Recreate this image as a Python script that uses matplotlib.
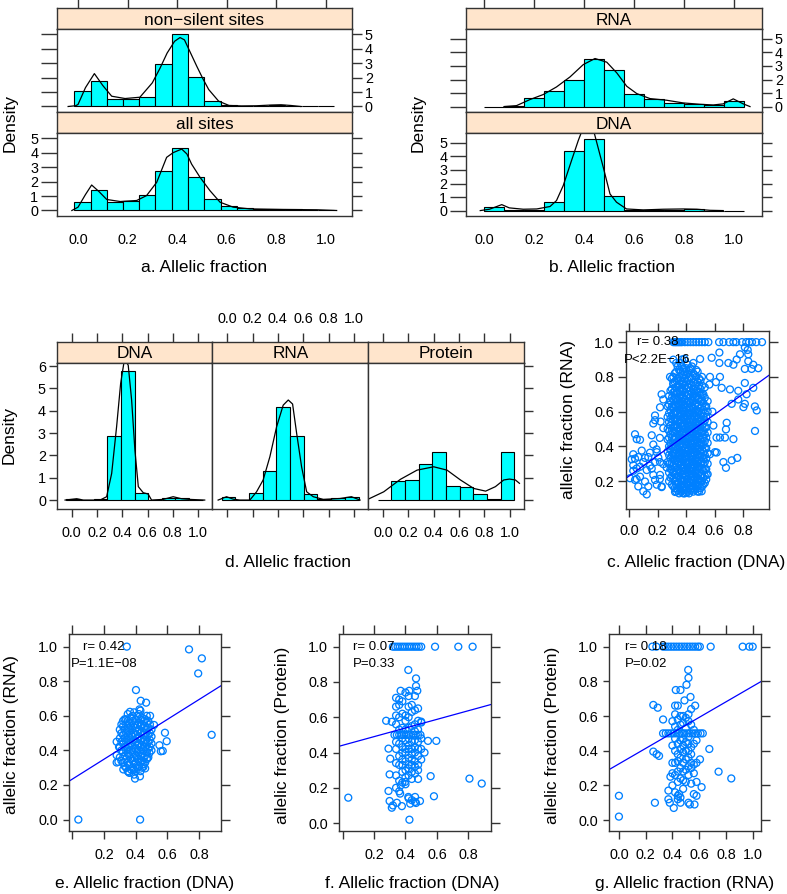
import numpy as np
import matplotlib.pyplot as plt

plt.rcParams['font.family'] = ['Liberation Sans', 'DejaVu Sans']

W, H = 787, 894
CYAN = '#00ffff'
STRIP = '#ffe5cc'
PT_COL = '#0080ff'
FRAME = '#333333'
M = '\u2212'

# ---------------- data ----------------
FRAC_TICKS = [0.0, 0.2, 0.4, 0.6, 0.8, 1.0]
FRAC_LABELS = ['0.0', '0.2', '0.4', '0.6', '0.8', '1.0']

# a. non-silent / all sites
A_EDGES = [-0.015, 0.051, 0.116, 0.182, 0.248, 0.313, 0.379, 0.444, 0.510,
           0.576, 0.641, 0.707, 0.773, 0.838, 0.904, 0.969, 1.035]
A_NONSILENT = [1.05, 1.79, 0.55, 0.55, 0.66, 2.96, 5.00, 2.04, 0.41, 0.07,
               0.04, 0.04, 0.07, 0.04, 0.0, 0.0]
A_ALL = [0.57, 1.44, 0.62, 0.69, 1.08, 2.70, 4.28, 2.29, 0.78, 0.30,
         0.16, 0.11, 0.11, 0.09, 0.05, 0.05]
A_NS_DX = [-0.04, -0.01, 0.0, 0.03, 0.066, 0.10, 0.136, 0.19, 0.25, 0.30, 0.33,
           0.36, 0.39, 0.412, 0.43, 0.46, 0.48, 0.505, 0.528, 0.568, 0.61, 0.66,
           0.72, 0.78, 0.82, 0.86, 0.90]
A_NS_DY = [0.0, 0.05, 0.14, 1.3, 2.27, 1.45, 0.71, 0.55, 0.64, 1.63, 2.6,
           3.69, 4.5, 4.76, 4.6, 3.5, 2.77, 1.9, 1.17, 0.37, 0.07, 0.04,
           0.05, 0.1, 0.12, 0.07, 0.0]
A_ALL_DX = [-0.025, 0.0, 0.03, 0.055, 0.085, 0.116, 0.17, 0.237, 0.277, 0.318,
            0.358, 0.385, 0.419, 0.44, 0.459, 0.493, 0.533, 0.574, 0.627, 0.695,
            0.83, 0.964, 1.045]
A_ALL_DY = [0.0, 0.23, 1.1, 1.76, 1.3, 0.76, 0.62, 0.69, 1.03, 1.95,
            3.67, 4.0, 4.24, 3.9, 3.2, 2.29, 1.37, 0.57, 0.23, 0.11,
            0.07, 0.05, 0.0]

# b. RNA / DNA
B_EDGES = [0.0, 0.08, 0.16, 0.24, 0.32, 0.40, 0.48, 0.56, 0.64, 0.72, 0.80,
           0.88, 0.96, 1.04]
B_RNA = [0.0, 0.03, 0.62, 1.18, 2.00, 3.55, 2.71, 0.94, 0.59, 0.27, 0.22, 0.10, 0.44]
B_DNA = [0.25, 0.07, 0.08, 0.64, 4.43, 5.30, 1.08, 0.05, 0.05, 0.03, 0.10, 0.0, 0.0]
B_RNA_DX = [0.079, 0.129, 0.183, 0.236, 0.289, 0.343, 0.396, 0.443, 0.49, 0.53,
            0.57, 0.61, 0.663, 0.729, 0.796, 0.863, 0.916, 0.956, 0.996, 1.036, 1.063]
B_RNA_DY = [0.0, 0.07, 0.52, 0.89, 1.45, 2.19, 3.1, 3.55, 3.28, 2.49,
            1.5, 0.96, 0.59, 0.47, 0.27, 0.17, 0.12, 0.2, 0.57, 0.2, 0.0]
B_DNA_DX = [-0.016, 0.021, 0.07, 0.1, 0.156, 0.21, 0.263, 0.289, 0.316, 0.349,
            0.376, 0.389, 0.414, 0.439, 0.476, 0.503, 0.529, 0.569, 0.636, 0.716,
            0.796, 0.85, 0.903, 0.956]
B_DNA_DY = [0.0, 0.1, 0.44, 0.2, 0.1, 0.12, 0.3, 0.74, 1.85, 3.69,
            5.17, 5.8, 6.4, 5.8, 3.2, 1.23, 0.62, 0.12, 0.05, 0.1,
            0.12, 0.1, 0.02, 0.0]

# d. DNA / RNA / Protein
D_EDGES = [-0.043, 0.065, 0.173, 0.281, 0.389, 0.497, 0.604, 0.712, 0.820, 0.928, 1.036]
D_DNA = [0.05, 0.0, 0.05, 2.88, 5.78, 0.33, 0.0, 0.10, 0.10, 0.0]
D_RNA = [0.12, 0.0, 0.33, 1.30, 4.18, 2.88, 0.27, 0.05, 0.08, 0.12]
D_PROT = [0.0, 0.85, 0.91, 1.60, 2.16, 0.64, 0.60, 0.27, 0.04, 2.13]
D_DNA_DX = [-0.053, 0.039, 0.092, 0.224, 0.276, 0.316, 0.355, 0.387, 0.413, 0.43,
            0.447, 0.474, 0.50, 0.527, 0.566, 0.605, 0.632, 0.724, 0.803, 0.869,
            0.935, 1.053]
D_DNA_DY = [0.0, 0.06, 0.0, 0.0, 0.15, 1.19, 3.28, 5.22, 6.15, 6.2,
            6.04, 4.48, 2.24, 0.6, 0.33, 0.27, 0.0, 0.03, 0.15, 0.06,
            0.03, 0.0]
D_RNA_DX = [-0.071, -0.005, 0.048, 0.10, 0.179, 0.232, 0.284, 0.337, 0.39, 0.442,
            0.482, 0.516, 0.548, 0.587, 0.627, 0.679, 0.758, 0.89, 0.98, 1.048]
D_RNA_DY = [0.0, 0.15, 0.04, 0.0, 0.0, 0.37, 0.9, 1.94, 3.28, 4.25,
            4.48, 4.3, 2.99, 1.49, 0.37, 0.15, 0.03, 0.07, 0.15, 0.0]
D_PROT_DX = [-0.114, 0.005, 0.137, 0.268, 0.40, 0.505, 0.611, 0.716, 0.81, 0.887,
             0.953, 0.998, 1.045, 1.077]
D_PROT_DY = [0.05, 0.37, 0.93, 1.34, 1.49, 1.34, 0.9, 0.52, 0.40, 0.6,
             0.9, 0.94, 0.9, 0.75]

# c. RNA vs DNA allelic fraction
C_TOP_X = [0.31, 0.32, 0.33, 0.34, 0.35, 0.36, 0.37, 0.39, 0.41, 0.43, 0.45,
           0.47, 0.49, 0.51, 0.53, 0.555, 0.63, 0.66, 0.70, 0.73, 0.75, 0.79,
           0.82, 0.84, 0.86, 0.89, 0.93]
C_OUTLIERS = [
    (0.31, 0.899), (0.387, 0.904), (0.497, 0.903), (0.578, 0.91), (0.632, 0.94),
    (0.632, 0.88), (0.695, 0.88), (0.753, 0.90), (0.776, 0.93), (0.834, 0.93),
    (0.834, 0.89), (0.869, 0.87), (0.904, 0.85), (0.81, 0.846), (0.857, 0.846),
    (0.73, 0.87), (0.81, 0.97), (0.83, 0.955), (0.566, 0.80), (0.636, 0.80),
    (0.608, 0.77), (0.562, 0.756), (0.648, 0.737), (0.706, 0.728), (0.764, 0.72),
    (0.81, 0.765), (0.869, 0.737), (0.822, 0.70), (0.764, 0.67), (0.718, 0.645),
    (0.81, 0.645), (0.88, 0.63), (0.228, 0.70), (0.24, 0.67), (0.182, 0.578),
    (0.217, 0.625), (0.287, 0.80), (0.31, 0.76), (0.182, 0.551), (0.17, 0.532),
    (0.042, 0.47), (0.054, 0.442), (0.077, 0.438), (0.159, 0.464), (0.089, 0.376),
    (0.042, 0.33), (0.065, 0.339), (0.112, 0.334), (0.135, 0.339), (0.194, 0.367),
    (0.182, 0.31), (0.217, 0.31), (0.03, 0.292), (0.054, 0.273), (0.077, 0.283),
    (0.124, 0.264), (0.159, 0.273), (0.007, 0.217), (0.042, 0.207), (0.077, 0.226),
    (0.112, 0.198), (0.065, 0.17), (0.10, 0.142), (0.124, 0.124), (0.135, 0.17),
    (0.182, 0.207), (0.194, 0.18), (0.229, 0.17), (0.17, 0.236), (0.217, 0.236),
    (0.03, 0.355), (0.019, 0.326), (0.10, 0.31), (0.147, 0.289), (0.03, 0.26),
    (0.053, 0.213), (0.147, 0.364), (0.17, 0.411), (0.193, 0.383), (0.216, 0.449),
    (0.24, 0.505), (0.221, 0.543), (0.205, 0.336), (0.24, 0.298), (0.263, 0.279),
    (0.216, 0.213), (0.228, 0.166), (0.543, 0.236), (0.508, 0.142), (0.403, 0.133),
    (0.322, 0.138), (0.601, 0.367), (0.612, 0.451), (0.636, 0.451), (0.671, 0.451),
    (0.73, 0.442), (0.683, 0.536), (0.678, 0.498), (0.881, 0.489), (0.893, 0.607),
    (0.80, 0.626), (0.66, 0.31), (0.678, 0.277), (0.718, 0.32), (0.757, 0.334),
    (0.287, 0.386), (0.566, 0.355), (0.613, 0.365), (0.583, 0.60), (0.59, 0.52),
]
C_CLOUD = [
    (0.27, [0.31, 0.37, 0.44, 0.50, 0.57, 0.63]),
    (0.29, [0.22, 0.27, 0.33, 0.38, 0.42, 0.47, 0.52, 0.56, 0.61, 0.66, 0.72]),
    (0.31, [0.17, 0.21, 0.25, 0.29, 0.33, 0.36, 0.40, 0.44, 0.48, 0.51, 0.55, 0.59,
            0.63, 0.67, 0.71, 0.76, 0.80]),
    (0.33, [0.14, 0.18, 0.22, 0.25, 0.28, 0.32, 0.35, 0.38, 0.42, 0.45, 0.49, 0.52,
            0.56, 0.60, 0.63, 0.67, 0.71, 0.74, 0.78, 0.83, 0.88]),
    (0.35, [0.13, 0.16, 0.19, 0.23, 0.26, 0.30, 0.33, 0.36, 0.40, 0.43, 0.47, 0.50,
            0.54, 0.57, 0.61, 0.64, 0.68, 0.72, 0.76, 0.80, 0.84]),
    (0.37, [0.15, 0.18, 0.21, 0.24, 0.28, 0.31, 0.34, 0.38, 0.41, 0.45, 0.48, 0.52,
            0.55, 0.59, 0.62, 0.66, 0.69, 0.73, 0.77, 0.81, 0.86, 0.90]),
    (0.39, [0.13, 0.17, 0.20, 0.23, 0.26, 0.29, 0.33, 0.36, 0.39, 0.43, 0.46, 0.50,
            0.53, 0.57, 0.60, 0.64, 0.67, 0.71, 0.75, 0.79, 0.83]),
    (0.41, [0.14, 0.18, 0.21, 0.25, 0.28, 0.31, 0.35, 0.38, 0.42, 0.45, 0.49, 0.52,
            0.56, 0.59, 0.63, 0.66, 0.70, 0.74, 0.78, 0.82, 0.87]),
    (0.43, [0.15, 0.19, 0.22, 0.26, 0.29, 0.33, 0.36, 0.40, 0.43, 0.47, 0.50, 0.54,
            0.57, 0.61, 0.65, 0.68, 0.72, 0.76, 0.80, 0.85]),
    (0.45, [0.14, 0.17, 0.21, 0.24, 0.28, 0.31, 0.35, 0.38, 0.42, 0.45, 0.48, 0.52,
            0.55, 0.59, 0.62, 0.66, 0.70, 0.73, 0.77, 0.82, 0.88]),
    (0.47, [0.16, 0.19, 0.23, 0.26, 0.30, 0.33, 0.37, 0.40, 0.44, 0.47, 0.51, 0.54,
            0.58, 0.61, 0.65, 0.69, 0.72, 0.76, 0.80, 0.84]),
    (0.49, [0.14, 0.18, 0.21, 0.25, 0.28, 0.32, 0.35, 0.39, 0.42, 0.46, 0.49, 0.53,
            0.56, 0.60, 0.64, 0.67, 0.71, 0.75, 0.79]),
    (0.51, [0.17, 0.20, 0.24, 0.27, 0.31, 0.34, 0.38, 0.41, 0.45, 0.48, 0.52, 0.55,
            0.59, 0.63, 0.66, 0.70, 0.75, 0.80]),
    (0.53, [0.19, 0.23, 0.27, 0.31, 0.35, 0.39, 0.43, 0.47, 0.51, 0.55, 0.59, 0.63,
            0.68, 0.74]),
    (0.55, [0.24, 0.30, 0.36, 0.42, 0.48, 0.54, 0.60, 0.66]),
    # second, interleaved layer of the dense core
    (0.28, [0.20, 0.25, 0.30, 0.35, 0.40, 0.45, 0.49, 0.54, 0.59, 0.64, 0.69]),
    (0.30, [0.18, 0.23, 0.27, 0.31, 0.35, 0.40, 0.45, 0.49, 0.54, 0.58, 0.63, 0.68,
            0.73, 0.79]),
    (0.32, [0.16, 0.20, 0.24, 0.28, 0.32, 0.36, 0.40, 0.44, 0.48, 0.52, 0.56, 0.60,
            0.64, 0.68, 0.72, 0.77, 0.82]),
    (0.34, [0.15, 0.19, 0.23, 0.27, 0.31, 0.35, 0.39, 0.43, 0.47, 0.51, 0.55, 0.59,
            0.63, 0.67, 0.71, 0.75, 0.79, 0.86]),
    (0.36, [0.14, 0.17, 0.21, 0.25, 0.29, 0.33, 0.37, 0.41, 0.45, 0.49, 0.53, 0.57,
            0.61, 0.65, 0.69, 0.73, 0.78, 0.83, 0.88]),
    (0.38, [0.13, 0.16, 0.20, 0.24, 0.28, 0.32, 0.36, 0.40, 0.44, 0.48, 0.52, 0.56,
            0.60, 0.64, 0.68, 0.72, 0.76, 0.81, 0.85]),
    (0.40, [0.15, 0.19, 0.23, 0.27, 0.30, 0.34, 0.37, 0.41, 0.44, 0.48, 0.51, 0.55,
            0.58, 0.62, 0.65, 0.69, 0.73, 0.77, 0.81, 0.85]),
    (0.42, [0.13, 0.16, 0.20, 0.24, 0.27, 0.31, 0.34, 0.38, 0.41, 0.45, 0.48, 0.52,
            0.55, 0.59, 0.62, 0.66, 0.70, 0.74, 0.79, 0.84]),
    (0.44, [0.16, 0.20, 0.24, 0.27, 0.31, 0.34, 0.38, 0.41, 0.45, 0.49, 0.52, 0.56,
            0.60, 0.63, 0.67, 0.71, 0.75, 0.79, 0.86]),
    (0.46, [0.15, 0.18, 0.22, 0.25, 0.29, 0.32, 0.36, 0.39, 0.43, 0.46, 0.50, 0.53,
            0.57, 0.60, 0.64, 0.68, 0.71, 0.75, 0.81]),
    (0.48, [0.14, 0.17, 0.21, 0.24, 0.28, 0.31, 0.35, 0.38, 0.42, 0.45, 0.49, 0.52,
            0.56, 0.60, 0.63, 0.67, 0.71, 0.77, 0.83]),
    (0.50, [0.16, 0.20, 0.23, 0.27, 0.30, 0.34, 0.37, 0.41, 0.44, 0.48, 0.51, 0.55,
            0.58, 0.62, 0.66, 0.70, 0.73, 0.78]),
    (0.52, [0.18, 0.22, 0.26, 0.30, 0.33, 0.37, 0.41, 0.45, 0.49, 0.53, 0.57, 0.61,
            0.65, 0.70]),
    (0.54, [0.21, 0.27, 0.33, 0.39, 0.45, 0.51, 0.57, 0.63]),
]
C_LINE = (0.229, 0.593)   # intercept, slope

# e. RNA vs DNA (subset)
E_OUTLIERS = [
    (0.038, 0.0), (0.428, 0.0), (0.344, 1.0), (0.737, 0.984), (0.818, 0.932),
    (0.795, 0.845), (0.88, 0.49), (0.402, 0.749), (0.432, 0.687), (0.466, 0.676),
    (0.364, 0.623), (0.424, 0.637), (0.491, 0.60), (0.585, 0.502), (0.596, 0.453),
    (0.55, 0.43), (0.559, 0.395), (0.571, 0.397), (0.516, 0.547), (0.291, 0.334),
    (0.28, 0.372), (0.28, 0.45), (0.295, 0.42), (0.322, 0.29), (0.354, 0.276),
    (0.386, 0.29), (0.396, 0.237), (0.427, 0.25), (0.449, 0.305), (0.474, 0.353),
    (0.487, 0.386), (0.28, 0.33), (0.46, 0.296), (0.389, 0.287),
]
E_CLOUD = [
    (0.30, [0.36, 0.42, 0.47, 0.52]),
    (0.32, [0.33, 0.39, 0.44, 0.49, 0.54, 0.57]),
    (0.34, [0.30, 0.35, 0.40, 0.45, 0.50, 0.55, 0.58]),
    (0.36, [0.27, 0.32, 0.37, 0.42, 0.46, 0.51, 0.56]),
    (0.38, [0.30, 0.34, 0.39, 0.43, 0.48, 0.52, 0.57, 0.60]),
    (0.40, [0.28, 0.33, 0.37, 0.41, 0.45, 0.49, 0.53, 0.58]),
    (0.42, [0.31, 0.35, 0.40, 0.44, 0.48, 0.52, 0.56, 0.61]),
    (0.44, [0.30, 0.34, 0.38, 0.43, 0.47, 0.51, 0.55, 0.59]),
    (0.46, [0.33, 0.37, 0.42, 0.46, 0.50, 0.54, 0.58]),
    (0.48, [0.36, 0.41, 0.45, 0.49, 0.53, 0.57]),
    (0.50, [0.40, 0.44, 0.48, 0.52]),
    (0.31, [0.34, 0.40, 0.45, 0.50, 0.55]),
    (0.33, [0.31, 0.37, 0.42, 0.47, 0.52, 0.58]),
    (0.35, [0.28, 0.33, 0.38, 0.43, 0.48, 0.53, 0.57, 0.61]),
    (0.37, [0.29, 0.35, 0.40, 0.44, 0.49, 0.54, 0.59]),
    (0.39, [0.26, 0.32, 0.36, 0.41, 0.46, 0.50, 0.55, 0.62]),
    (0.41, [0.30, 0.35, 0.39, 0.43, 0.47, 0.51, 0.55, 0.60]),
    (0.43, [0.28, 0.33, 0.37, 0.42, 0.46, 0.50, 0.54, 0.58, 0.63]),
    (0.45, [0.32, 0.36, 0.40, 0.45, 0.49, 0.53, 0.57]),
    (0.47, [0.35, 0.39, 0.44, 0.48, 0.52, 0.56, 0.60]),
    (0.49, [0.42, 0.46, 0.50, 0.55]),
]
E_LINE = (0.234, 0.575)

# f. Protein vs DNA
F_TOP_X = [0.32, 0.335, 0.35, 0.365, 0.38, 0.395, 0.41, 0.425, 0.44, 0.455,
           0.47, 0.485, 0.50, 0.588, 0.736, 0.827]
F_HALF_X = [0.33, 0.345, 0.36, 0.375, 0.39, 0.405, 0.42, 0.435, 0.45, 0.465,
            0.48, 0.495]
F_OUTLIERS = [
    (0.036, 0.144), (0.425, 0.019), (0.807, 0.252), (0.885, 0.224), (0.581, 0.152),
    (0.56, 0.266), (0.418, 0.868), (0.467, 0.82), (0.467, 0.777), (0.475, 0.75),
    (0.369, 0.75), (0.424, 0.75), (0.596, 0.466), (0.543, 0.466), (0.521, 0.40),
    (0.277, 0.58), (0.313, 0.574), (0.292, 0.422), (0.303, 0.365), (0.299, 0.276),
    (0.292, 0.182), (0.299, 0.125), (0.313, 0.087), (0.32, 0.10), (0.345, 0.115),
    (0.377, 0.096), (0.418, 0.148), (0.461, 0.148), (0.467, 0.114), (0.492, 0.125),
    (0.43, 0.11), (0.366, 0.167), (0.37, 0.214), (0.397, 0.233), (0.50, 0.575),
]
F_CLOUD = [
    (0.34, [0.20, 0.27, 0.34, 0.42, 0.46, 0.56, 0.61, 0.66, 0.71]),
    (0.36, [0.18, 0.24, 0.33, 0.38, 0.45, 0.53, 0.60, 0.67, 0.70]),
    (0.38, [0.23, 0.29, 0.33, 0.36, 0.40, 0.43, 0.48, 0.54, 0.62, 0.69]),
    (0.40, [0.22, 0.26, 0.30, 0.35, 0.40, 0.42, 0.47, 0.53, 0.58, 0.61, 0.74]),
    (0.42, [0.14, 0.27, 0.31, 0.33, 0.37, 0.42, 0.44, 0.48, 0.54, 0.60, 0.66, 0.72]),
    (0.44, [0.13, 0.25, 0.29, 0.33, 0.36, 0.39, 0.42, 0.46, 0.55, 0.63, 0.67]),
    (0.46, [0.12, 0.28, 0.32, 0.35, 0.40, 0.43, 0.47, 0.52, 0.56, 0.64, 0.72]),
    (0.48, [0.25, 0.30, 0.33, 0.38, 0.42, 0.46, 0.53, 0.58, 0.65]),
    (0.50, [0.36, 0.42, 0.48, 0.57]),
]
F_LINE = (0.441, 0.245)

# g. Protein vs RNA
G_TOP_X = [0.25, 0.28, 0.33, 0.35, 0.37, 0.39, 0.41, 0.43, 0.45, 0.47, 0.49,
           0.51, 0.53, 0.55, 0.57, 0.59, 0.605, 0.686, 0.925, 0.975, 1.0]
G_HALF_X = [0.33, 0.35, 0.37, 0.39, 0.41, 0.43, 0.45, 0.47, 0.49, 0.51, 0.53,
            0.55, 0.57, 0.59, 0.61, 0.627]
G_OUTLIERS = [
    (0.0, 0.14), (0.0, 0.02), (0.269, 0.10), (0.257, 0.395), (0.282, 0.38),
    (0.30, 0.37), (0.257, 0.664), (0.29, 0.648), (0.33, 0.58), (0.745, 0.279),
    (0.84, 0.24), (0.676, 0.41), (0.618, 0.19), (0.606, 0.35), (0.58, 0.14),
    (0.565, 0.09), (0.53, 0.09), (0.518, 0.866), (0.52, 0.82), (0.505, 0.78),
    (0.425, 0.75), (0.46, 0.75), (0.535, 0.71), (0.57, 0.66), (0.42, 0.66),
    (0.44, 0.66), (0.49, 0.69), (0.41, 0.07), (0.38, 0.10), (0.37, 0.12),
    (0.44, 0.12), (0.45, 0.15), (0.46, 0.10), (0.37, 0.17), (0.385, 0.25),
]
G_CLOUD = [
    (0.40, [0.20, 0.27, 0.33, 0.43, 0.57]),
    (0.42, [0.16, 0.26, 0.33, 0.40, 0.47, 0.54, 0.61]),
    (0.44, [0.14, 0.22, 0.28, 0.34, 0.38, 0.44, 0.52, 0.58]),
    (0.46, [0.13, 0.24, 0.30, 0.36, 0.41, 0.46, 0.55, 0.60]),
    (0.48, [0.18, 0.23, 0.28, 0.33, 0.39, 0.43, 0.47, 0.56, 0.60]),
    (0.50, [0.22, 0.29, 0.35, 0.40, 0.45, 0.53, 0.59]),
    (0.52, [0.10, 0.26, 0.31, 0.36, 0.40, 0.44, 0.48, 0.57, 0.61]),
    (0.54, [0.21, 0.30, 0.33, 0.38, 0.42, 0.55, 0.64]),
    (0.56, [0.15, 0.27, 0.32, 0.44, 0.52]),
    (0.58, [0.22, 0.33, 0.46]),
]
G_LINE = (0.324, 0.447)

# ---------------- drawing ----------------
fig = plt.figure(figsize=(W / 100, H / 100), dpi=100)


def px_axes(l, t, r, b):
    ax = fig.add_axes([l / W, 1 - b / H, (r - l) / W, (b - t) / H])
    for sp in ax.spines.values():
        sp.set_color(FRAME)
        sp.set_linewidth(1.0)
    ax.tick_params(left=False, bottom=False, labelleft=False, labelbottom=False)
    return ax


def add_ticks(ax, side, ticks, labels=None, length=6, pad=3, size=10.4):
    if side in ('left', 'bottom'):
        target = ax
    else:
        target = ax.secondary_yaxis('right') if side == 'right' else ax.secondary_xaxis('top')
        for sp in target.spines.values():
            sp.set_visible(False)
    axis = target.yaxis if side in ('left', 'right') else target.xaxis
    axis.set_ticks(ticks)
    axis.set_ticklabels(labels if labels is not None else [''] * len(ticks))
    kw = {side: True, 'label' + side: labels is not None}
    target.tick_params(axis='y' if side in ('left', 'right') else 'x',
                       direction='out', length=length, width=1.0, color=FRAME,
                       pad=pad, labelsize=size, **kw)


def strip(l, t, r, b, text, xlim):
    ax = px_axes(l, t, r, b)
    ax.set_facecolor(STRIP)
    ax.set_xlim(xlim)
    ax.set_ylim(0, 1)
    ax.text(0.5, 0.2, text, transform=ax.transAxes, ha='center', va='baseline',
            fontsize=12.4)
    return ax


def hist(ax, edges, heights, dx, dy, xlim, ylim):
    edges = np.asarray(edges)
    ax.bar(edges[:-1], heights, width=np.diff(edges), align='edge', color=CYAN,
           edgecolor='black', linewidth=0.8)
    ax.plot(dx, dy, color='black', lw=0.9)
    ax.set_xlim(xlim)
    ax.set_ylim(ylim)


def scatter(ax, xs, ys, line, xlim, ylim, rtxt, ptxt):
    ax.scatter(xs, ys, s=25, facecolors='none', edgecolors=PT_COL, linewidths=0.95)
    ax.axline((0, line[0]), slope=line[1], color='blue', lw=0.9)
    ax.set_xlim(xlim)
    ax.set_ylim(ylim)
    ax.text(0.2, 1.0, rtxt, ha='center', va='center', fontsize=9.5)
    ax.text(0.2, 0.9, ptxt, ha='center', va='center', fontsize=9.5)


def flatten(cloud):
    xs, ys = [], []
    for x, col in cloud:
        xs += [x] * len(col)
        ys += col
    return xs, ys


def ftext(x, y, s, **kw):
    fig.text(x / W, 1 - y / H, s, fontsize=12.5, **kw)


DENS_TICKS = [0, 1, 2, 3, 4, 5]
DENS_LABELS = ['0', '1', '2', '3', '4', '5']

# --- panels a and b (two stacked histograms each)
for L, R, xlim, ylim, top, bot in [
        (57, 352, (-0.085, 1.107), (-0.38, 5.35),
         ('non' + M + 'silent sites', A_EDGES, A_NONSILENT, A_NS_DX, A_NS_DY),
         ('all sites', A_EDGES, A_ALL, A_ALL_DX, A_ALL_DY)),
        (466, 762, (-0.073, 1.111), (-0.40, 5.73),
         ('RNA', B_EDGES, B_RNA, B_RNA_DX, B_RNA_DY),
         ('DNA', B_EDGES, B_DNA, B_DNA_DX, B_DNA_DY))]:
    s1 = strip(L, 8, R, 29, top[0], xlim)
    add_ticks(s1, 'top', FRAC_TICKS, None, length=11.5)
    ax1 = px_axes(L, 29, R, 112)
    hist(ax1, *top[1:], xlim, ylim)
    add_ticks(ax1, 'left', DENS_TICKS, None, length=11.5)
    add_ticks(ax1, 'right', DENS_TICKS, DENS_LABELS, length=7.2, pad=2)
    strip(L, 112, R, 133, bot[0], xlim)
    ax2 = px_axes(L, 133, R, 216)
    hist(ax2, *bot[1:], xlim, ylim)
    add_ticks(ax2, 'left', DENS_TICKS, DENS_LABELS, length=11.5, pad=2)
    add_ticks(ax2, 'right', DENS_TICKS, None, length=7.2)
    add_ticks(ax2, 'bottom', FRAC_TICKS, FRAC_LABELS, length=0, pad=12)

ftext(10, 123, 'Density', rotation=90, ha='center', va='center')
ftext(418, 123, 'Density', rotation=90, ha='center', va='center')
ftext(204, 272, 'a. Allelic fraction', ha='center', va='baseline')
ftext(612, 272, 'b. Allelic fraction', ha='center', va='baseline')

# --- panel d (three side-by-side histograms)
D_XLIM = (-0.117, 1.113)
D_YLIM = (-0.40, 6.15)
D_TICKS = [0, 1, 2, 3, 4, 5, 6]
D_LABELS = ['0', '1', '2', '3', '4', '5', '6']
d_panels = [(57, 212.3, 'DNA', D_DNA, D_DNA_DX, D_DNA_DY),
            (212.3, 368.3, 'RNA', D_RNA, D_RNA_DX, D_RNA_DY),
            (368.3, 524, 'Protein', D_PROT, D_PROT_DX, D_PROT_DY)]
for i, (L, R, name, h, dx, dy) in enumerate(d_panels):
    s = strip(L, 341.7, R, 362.7, name, D_XLIM)
    add_ticks(s, 'top', FRAC_TICKS, FRAC_LABELS if i == 1 else None,
              length=6.3, pad=5)
    ax = px_axes(L, 362.7, R, 509)
    hist(ax, D_EDGES, h, dx, dy, D_XLIM, D_YLIM)
    add_ticks(ax, 'bottom', FRAC_TICKS, FRAC_LABELS if i != 1 else None,
              length=6, pad=6.5)
    if i == 0:
        add_ticks(ax, 'left', D_TICKS, D_LABELS, length=6, pad=2)
    if i == 2:
        add_ticks(ax, 'right', D_TICKS, None, length=6.5)

ftext(9, 435, 'Density', rotation=90, ha='center', va='center')
ftext(288, 567, 'd. Allelic fraction', ha='center', va='baseline')

# --- panel c
cx, cy = flatten(C_CLOUD)
cx += C_TOP_X + [p[0] for p in C_OUTLIERS]
cy += [1.0] * len(C_TOP_X) + [p[1] for p in C_OUTLIERS]
axc = px_axes(625.7, 331, 769.3, 509)
scatter(axc, cx, cy, C_LINE, (-0.023, 0.981), (0.04, 1.064),
        'r= 0.38', 'P<2.2E' + M + '16')
add_ticks(axc, 'left', [0.2, 0.4, 0.6, 0.8, 1.0], ['0.2', '0.4', '0.6', '0.8', '1.0'],
          length=5.5, pad=3)
add_ticks(axc, 'bottom', FRAC_TICKS[:5], FRAC_LABELS[:5], length=5.5, pad=5)
add_ticks(axc, 'top', FRAC_TICKS[:5], None, length=6)
add_ticks(axc, 'right', [0.2, 0.4, 0.6, 0.8, 1.0], None, length=6.5)
ftext(568, 420, 'allelic fraction (RNA)', rotation=90, ha='center', va='center')
ftext(696, 567, 'c. Allelic fraction (DNA)', ha='center', va='baseline')

# --- panels e, f, g
ex, ey = flatten(E_CLOUD)
ex += [p[0] for p in E_OUTLIERS]
ey += [p[1] for p in E_OUTLIERS]

fx, fy = flatten(F_CLOUD)
fx += F_TOP_X + F_HALF_X + [p[0] for p in F_OUTLIERS]
fy += [1.0] * len(F_TOP_X) + [0.5] * len(F_HALF_X) + [p[1] for p in F_OUTLIERS]

gx, gy = flatten(G_CLOUD)
gx += G_TOP_X + G_HALF_X + [p[0] for p in G_OUTLIERS]
gy += [1.0] * len(G_TOP_X) + [0.5] * len(G_HALF_X) + [p[1] for p in G_OUTLIERS]

bottom_row = [
    (69, 221, ex, ey, E_LINE, (-0.021, 0.939), (-0.066, 1.073), 'r= 0.42',
     'P=1.1E' + M + '08', 5, 12, 145, 'e. Allelic fraction (DNA)', 'allelic fraction (RNA)'),
    (339, 491, fx, fy, F_LINE, (-0.023, 0.944), (-0.045, 1.072), 'r= 0.07',
     'P=0.33', 5, 282, 412, 'f. Allelic fraction (DNA)', 'allelic fraction (Protein)'),
    (609.3, 760.7, gx, gy, G_LINE, (-0.072, 1.06), (-0.063, 1.073), 'r= 0.18',
     'P=0.02', 6, 552, 685, 'g. Allelic fraction (RNA)', 'allelic fraction (Protein)'),
]
for L, R, xs, ys, line, xlim, ylim, rt, pt, nx, ylx, xlx, xl, yl in bottom_row:
    ax = px_axes(L, 634, R, 831)
    scatter(ax, xs, ys, line, xlim, ylim, rt, pt)
    xt = FRAC_TICKS[:nx]
    xlab = FRAC_LABELS[:nx] if nx == 6 else [''] + FRAC_LABELS[1:nx]
    add_ticks(ax, 'left', FRAC_TICKS, FRAC_LABELS, length=4.5, pad=3.5)
    add_ticks(ax, 'bottom', xt, xlab, length=6, pad=6)
    add_ticks(ax, 'top', xt, None, length=6.5)
    add_ticks(ax, 'right', FRAC_TICKS, None, length=6.5)
    ftext(ylx, 735, yl, rotation=90, ha='center', va='center')
    ftext(xlx, 888, xl, ha='center', va='baseline')

fig.savefig('out.png', dpi=100)
